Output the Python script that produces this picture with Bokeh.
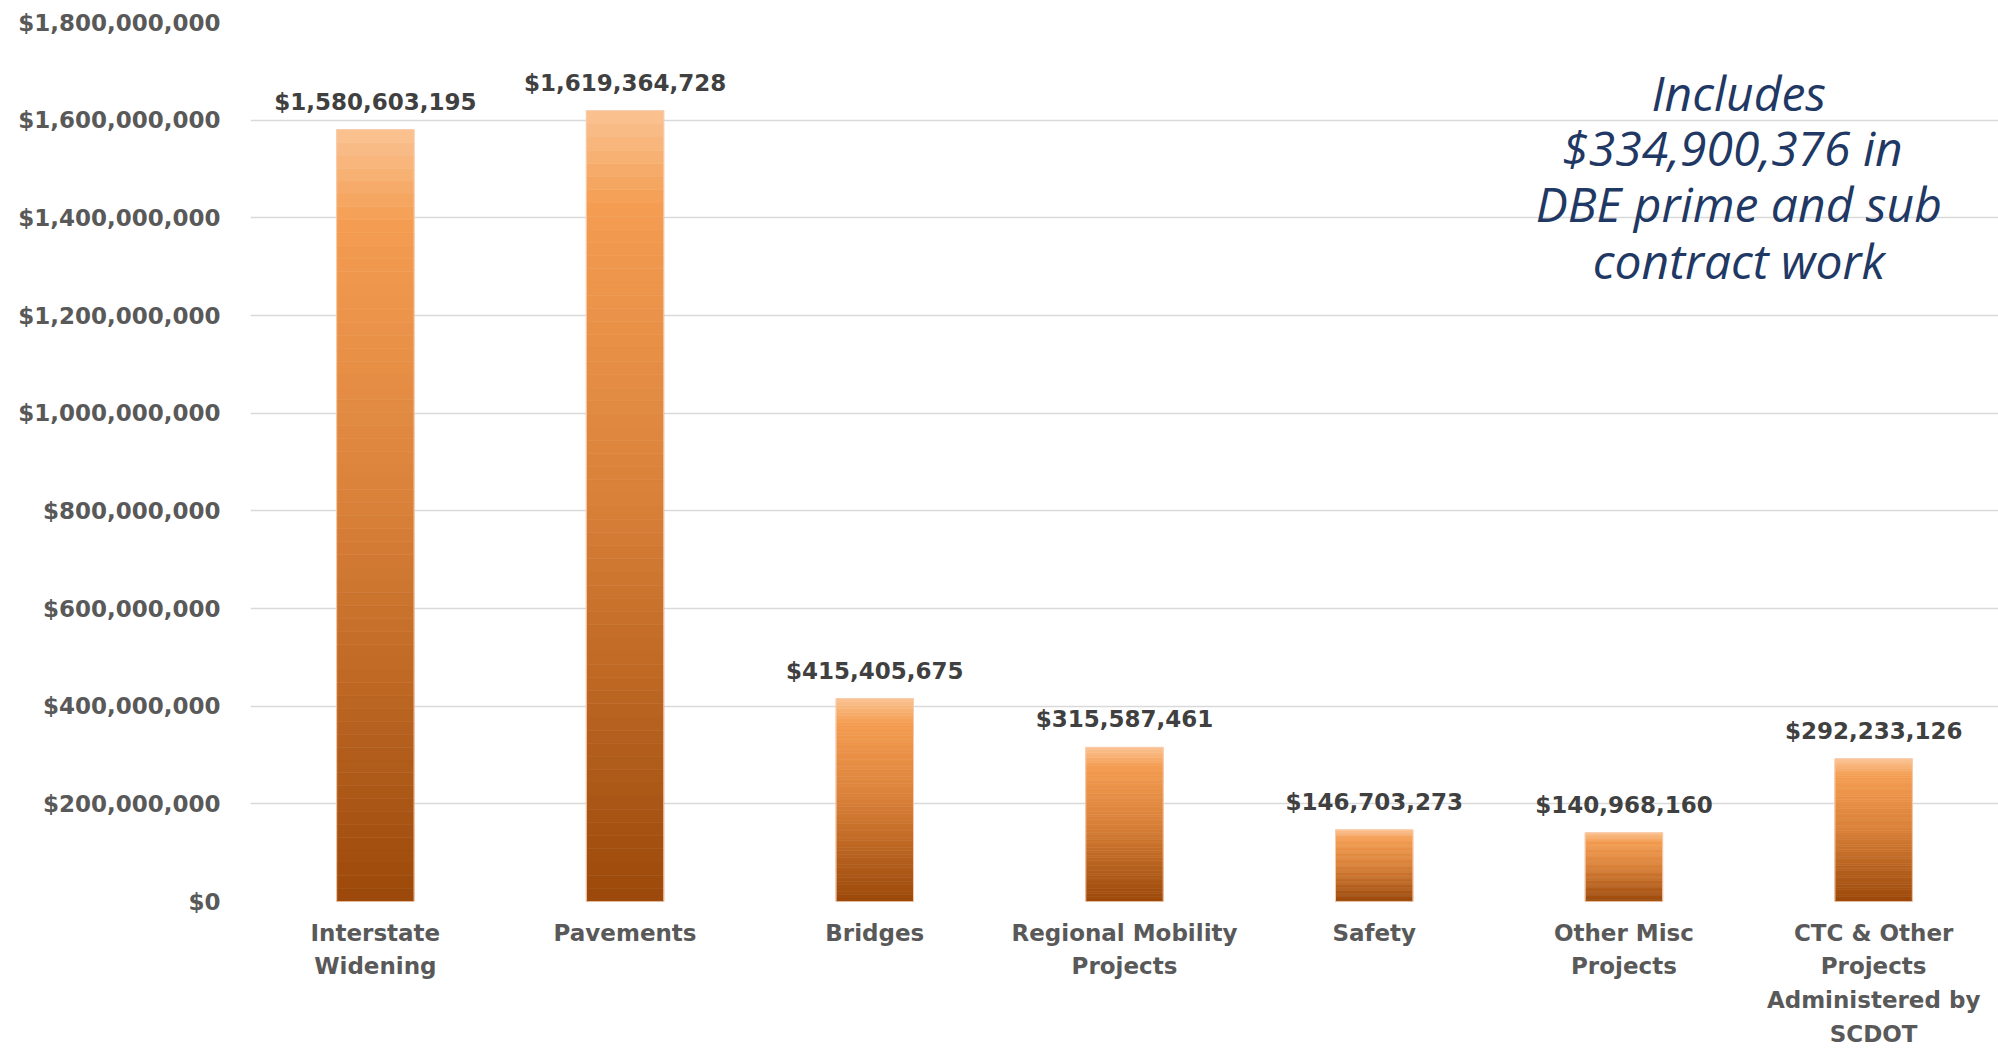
from bokeh.plotting import figure
from bokeh.models import FactorRange, FixedTicker, NumeralTickFormatter, Label, ColumnDataSource
from bokeh.embed import file_html
from bokeh.resources import INLINE
from bokeh.core.properties import value

# ---- data ----
categories = [
    "Interstate\nWidening",
    "Pavements",
    "Bridges",
    "Regional Mobility\nProjects",
    "Safety",
    "Other Misc\nProjects",
    "CTC & Other\nProjects\nAdministered by\nSCDOT",
]
amounts = [1580603195, 1619364728, 415405675, 315587461, 146703273, 140968160, 292233126]
y_ticks = [0, 200000000, 400000000, 600000000, 800000000, 1000000000,
           1200000000, 1400000000, 1600000000, 1800000000]
note_lines = ["Includes", "$334,900,376  in", "DBE prime and sub", "contract work"]

# ---- style ----
W, H = 1998, 1054
FONT = "DejaVu Sans"
BAR_W = 0.31
stops = [(0.0, (250, 195, 147)), (0.12, (244, 157, 82)), (0.5, (216, 128, 56)), (1.0, (155, 72, 10))]


def grad(t):
    for (t0, c0), (t1, c1) in zip(stops[:-1], stops[1:]):
        if t <= t1:
            f = (t - t0) / (t1 - t0) if t1 > t0 else 0
            return "#%02x%02x%02x" % tuple(int(round(a + (b - a) * f)) for a, b in zip(c0, c1))
    return "#%02x%02x%02x" % stops[-1][1]


p = figure(
    x_range=FactorRange(*categories, range_padding=0),
    y_range=(0, 1800000000),
    width=W, height=H,
    output_backend="svg", toolbar_location=None,
    min_border_left=250, min_border_right=0, min_border_top=22, min_border_bottom=153,
)
p.x_range.range_padding = 0
p.outline_line_color = None
p.background_fill_color = "white"
p.border_fill_color = "white"

# gradient bars built as stacked slices of each value
N = 60
xs, bots, tops, cols = [], [], [], []
for c, v in zip(categories, amounts):
    for k in range(N):
        xs.append(c)
        bots.append(v * k / N)
        tops.append(v * (k + 1) / N)
        cols.append(grad(1 - (k + 0.5) / N))
src = ColumnDataSource(dict(x=xs, bottom=bots, top=tops, color=cols))
p.vbar(x="x", bottom="bottom", top="top", width=BAR_W, source=src,
       fill_color="color", line_color="color", line_width=0.6)
p.vbar(x=categories, top=amounts, width=BAR_W, fill_color=None,
       line_color="#F8CBAD", line_width=1)

# data labels
labels = ["${:,}".format(a) for a in amounts]
p.text(x=categories, y=amounts, text=labels, text_align="center", text_baseline="alphabetic",
       y_offset=-28, text_font=value(FONT), text_font_style="bold",
       text_font_size="23px", text_color="#404040")

# annotation
note_y = [1656000000, 1544000000, 1429000000, 1312000000]
for t, yy in zip(note_lines, note_y):
    p.add_layout(Label(x=5.96, y=yy, text=t, text_align="center", text_baseline="middle",
                       text_font="Open Sans", text_font_style="italic", text_font_size="48px",
                       text_color="#1F3864"))

# axes
p.yaxis.ticker = FixedTicker(ticks=y_ticks)
p.yaxis.formatter = NumeralTickFormatter(format="$0,0")
for ax in (p.xaxis[0], p.yaxis[0]):
    ax.axis_line_color = None
    ax.major_tick_line_color = None
    ax.minor_tick_line_color = None
    ax.major_tick_out = 0
    ax.major_tick_in = 0
    ax.major_label_text_font = FONT
    ax.major_label_text_font_style = "bold"
    ax.major_label_text_font_size = "23px"
    ax.major_label_text_color = "#595959"
p.yaxis.major_label_standoff = 30
p.xaxis.major_label_standoff = 18
p.xaxis.major_label_text_line_height = 1.3

p.xgrid.grid_line_color = None
p.ygrid.grid_line_color = "#D9D9D9"
p.ygrid.grid_line_width = 1.5

open("out.html", "w").write(file_html(p, INLINE))
